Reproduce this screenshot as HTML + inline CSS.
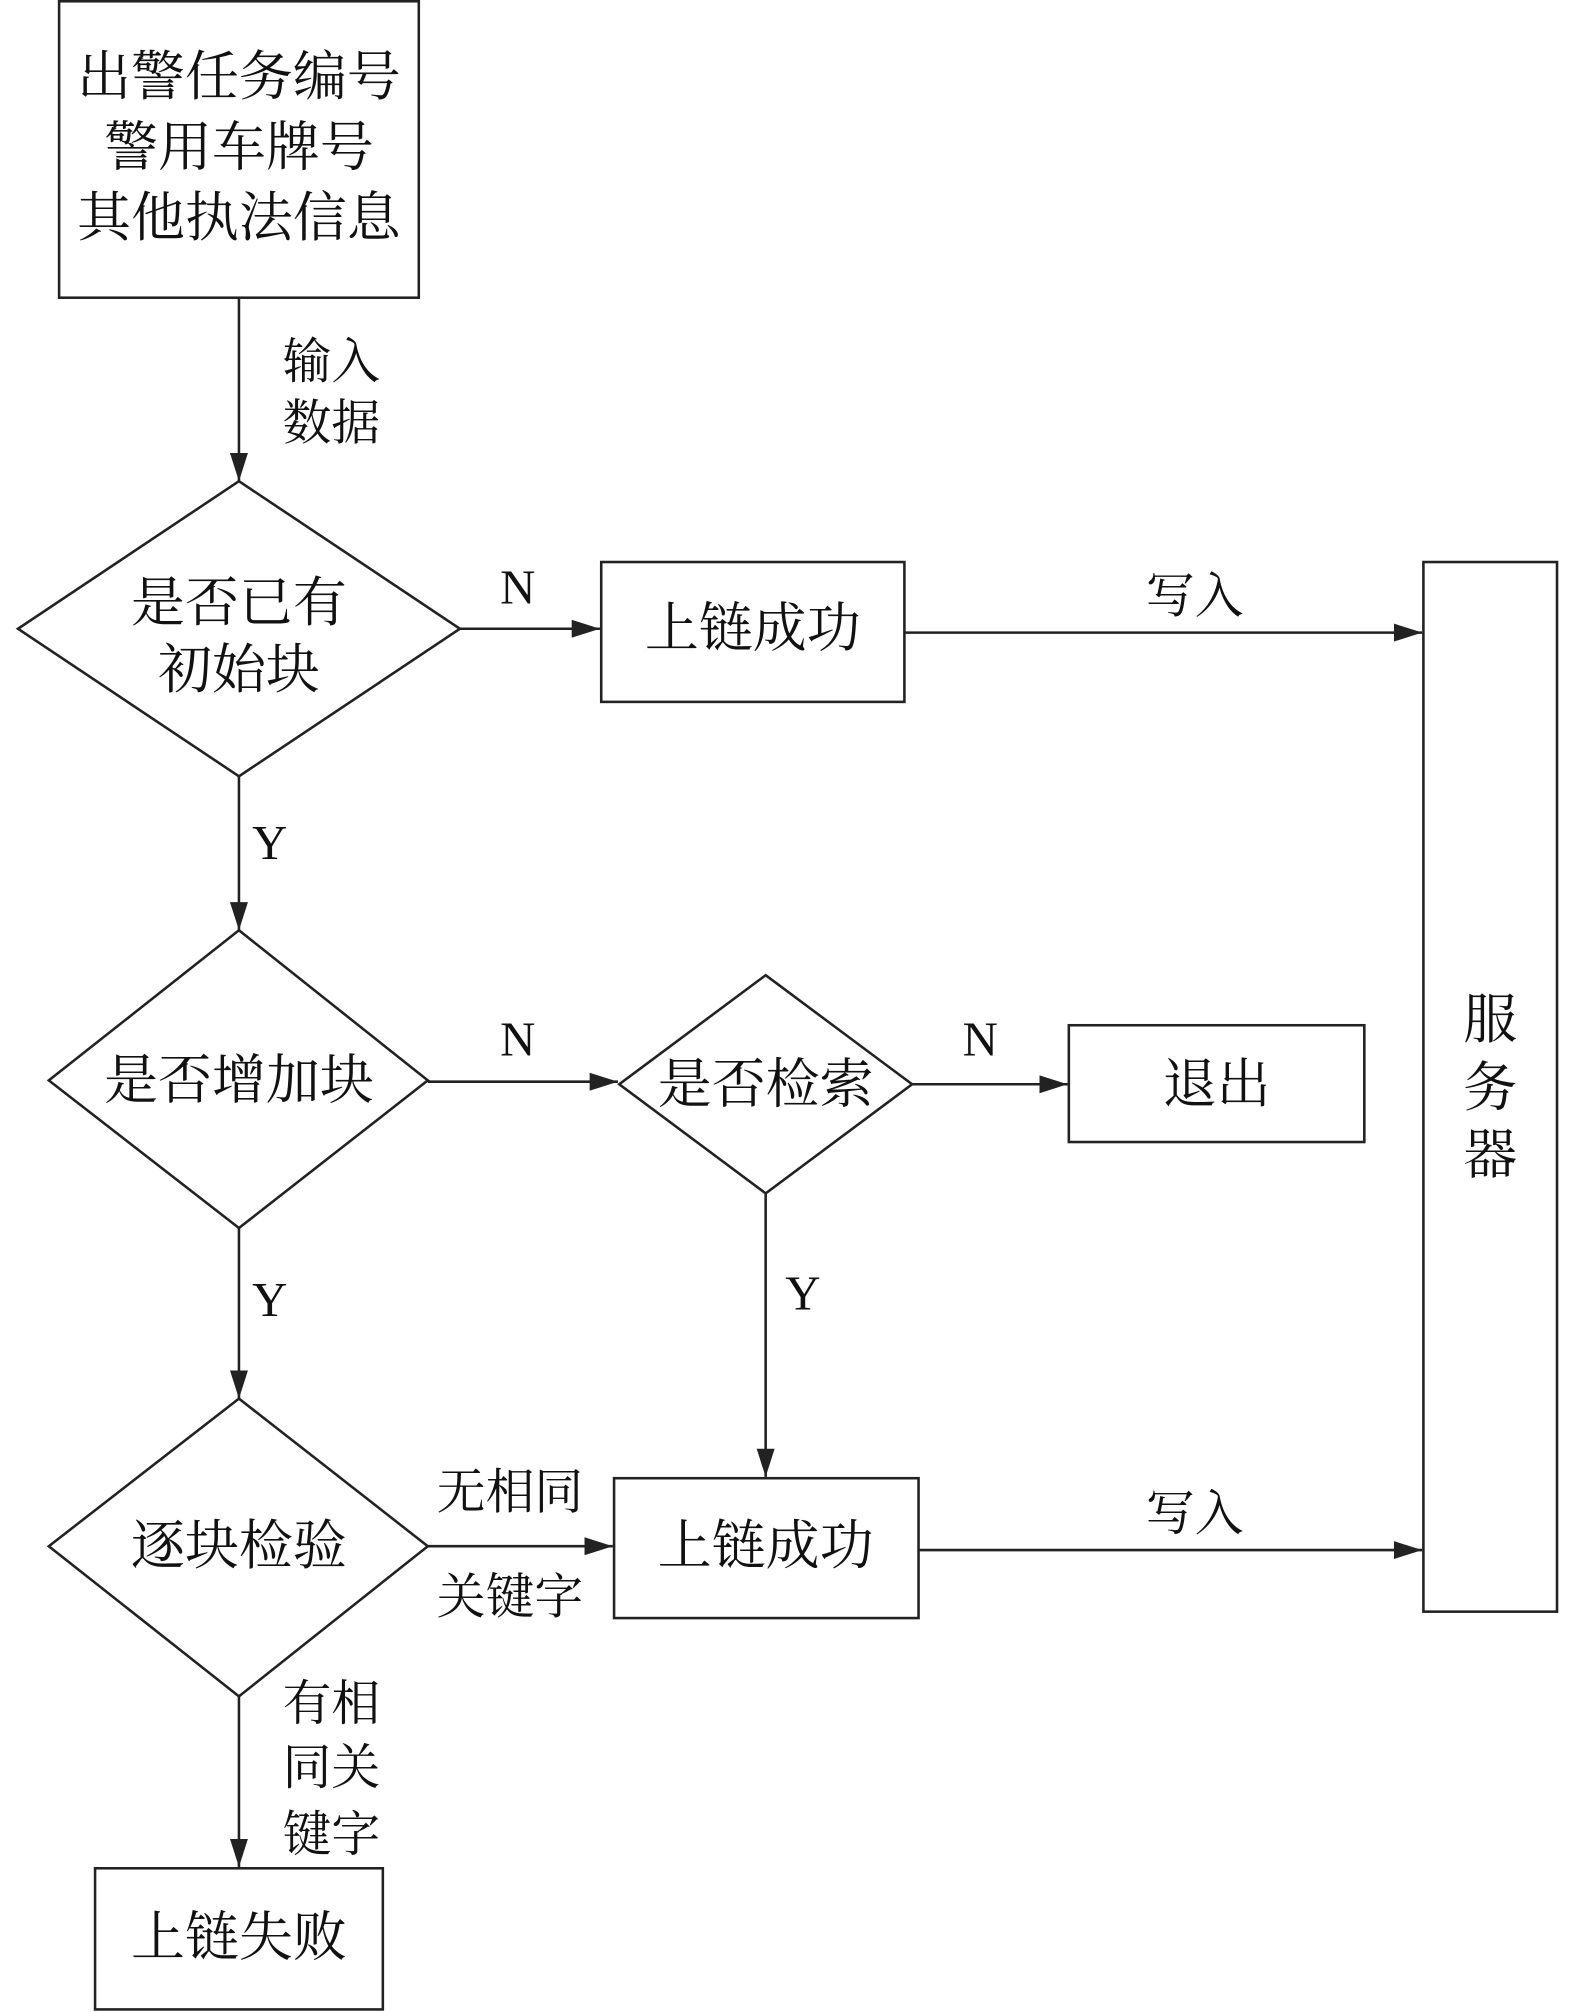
<!DOCTYPE html>
<html><head><meta charset="utf-8"><style>html,body{margin:0;padding:0;background:#fff}svg{display:block}text{font-family:"Liberation Serif","Noto Serif CJK SC",serif;fill:#111;text-anchor:middle;dominant-baseline:central}</style></head><body>
<svg width="1575" height="2012" viewBox="0 0 1226 1568" preserveAspectRatio="none" xmlns="http://www.w3.org/2000/svg">
<defs><marker id="a" markerWidth="10" markerHeight="8" refX="10" refY="4" orient="auto" markerUnits="userSpaceOnUse" viewBox="0 0 10 8"><path d="M0,0L10,4L0,8z" fill="#222"/></marker>
<marker id="b" viewBox="0 0 22 14" refX="22" refY="7" markerWidth="22" markerHeight="14" orient="auto" markerUnits="userSpaceOnUse"><path d="M0,0L22,7L0,14z" fill="#222"/></marker></defs>
<g fill="none" stroke="#222" stroke-width="2">
<rect x="46" y="1" width="280" height="231"/>
<polygon points="186,375 358,490 186,605 14,490"/>
<rect x="468" y="438" width="236" height="109"/>
<rect x="1108" y="438" width="104" height="818"/>
<polygon points="186,725 333,842 186,957 38,842"/>
<polygon points="596,760 710,845 596,930 482,845"/>
<rect x="832" y="799" width="230" height="91"/>
<polygon points="186,1090 333,1205 186,1322 38,1205"/>
<rect x="478" y="1152" width="237" height="109"/>
<rect x="74" y="1456" width="224" height="110"/>
<g marker-end="url(#b)">
<line x1="186" y1="232" x2="186" y2="375"/>
<line x1="358" y1="490" x2="467" y2="490"/>
<line x1="704" y1="493" x2="1107" y2="493"/>
<line x1="186" y1="605" x2="186" y2="725"/>
<line x1="333" y1="843" x2="481" y2="843"/>
<line x1="710" y1="845" x2="831" y2="845"/>
<line x1="596" y1="930" x2="596" y2="1151"/>
<line x1="186" y1="957" x2="186" y2="1090"/>
<line x1="333" y1="1205" x2="477" y2="1205"/>
<line x1="715" y1="1208" x2="1107" y2="1208"/>
<line x1="186" y1="1322" x2="186" y2="1455"/>
</g></g>
<g font-size="42">
<text x="186" y="60">出警任务编号</text>
<text x="186" y="115">警用车牌号</text>
<text x="186" y="170">其他执法信息</text>
<text x="186" y="470">是否已有</text>
<text x="186" y="522">初始块</text>
<text x="586" y="490">上链成功</text>
<text x="186" y="842">是否增加块</text>
<text x="596" y="845">是否检索</text>
<text x="947" y="845">退出</text>
<text x="186" y="1205">逐块检验</text>
<text x="596" y="1205">上链成功</text>
<text x="186" y="1510">上链失败</text>
<text x="1160" y="795">服</text>
<text x="1160" y="848">务</text>
<text x="1160" y="900">器</text>
</g>
<g font-size="38">
<text x="258" y="282">输入</text>
<text x="258" y="330">数据</text>
<text x="403" y="458">N</text>
<text x="930" y="465">写入</text>
<text x="210" y="657">Y</text>
<text x="403" y="810">N</text>
<text x="763" y="810">N</text>
<text x="625" y="1008">Y</text>
<text x="210" y="1013">Y</text>
<text x="397" y="1163">无相同</text>
<text x="397" y="1245">关键字</text>
<text x="930" y="1180">写入</text>
<text x="258" y="1328">有相</text>
<text x="258" y="1378">同关</text>
<text x="258" y="1430">键字</text>
</g>
</svg></body></html>
